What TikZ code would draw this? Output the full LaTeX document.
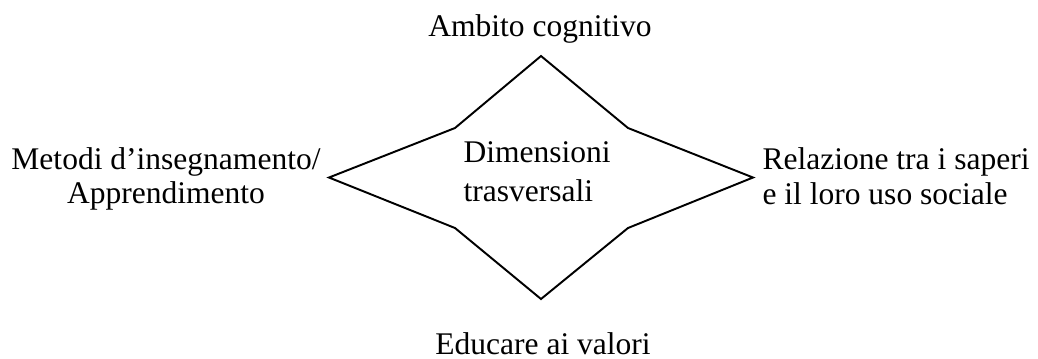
\documentclass[tikz,border=0pt]{standalone}
\usepackage{fontspec}
\setmainfont{Liberation Serif}

\begin{document}
\begin{tikzpicture}[x=0.387pt,y=-0.387pt,
		lbl/.style={inner sep=0pt,font=\fontsize{12.2}{13.2}\selectfont}]
		\useasboundingbox (0,0) rectangle (1038,358);
		% points of the star
		\coordinate (T) at (541,56);
		\coordinate (UR) at (628,128);
		\coordinate (R) at (753,177.5);
		\coordinate (LR) at (628,228);
		\coordinate (B) at (541,299);
		\coordinate (LL) at (455,228);
		\coordinate (L) at (329,177.5);
		\coordinate (UL) at (455,128);
		\draw[line width=0.75pt]
		(T) -- (UR) -- (R) -- (LR) -- (B) -- (LL) -- (L) -- (UL) -- cycle;
		% labels (base = baseline of the last line)
		\node[lbl,anchor=base] (amb) at (540,36) {Ambito cognitivo};
		\node[lbl,anchor=base] (edu) at (543,354) {Educare ai valori};
		\node[lbl,anchor=base,align=center] (met) at (166,203.5) {Metodi d’insegnamento/\\Apprendimento};
		\node[lbl,anchor=base west,align=left] (rel) at (762,204) {Relazione tra i saperi\\e il loro uso sociale};
		\node[lbl,anchor=base west,align=left,font=\fontsize{12.2}{15.1}\selectfont] (dim) at (463,201.7) {Dimensioni\\trasversali};
	\end{tikzpicture}
\end{document}
